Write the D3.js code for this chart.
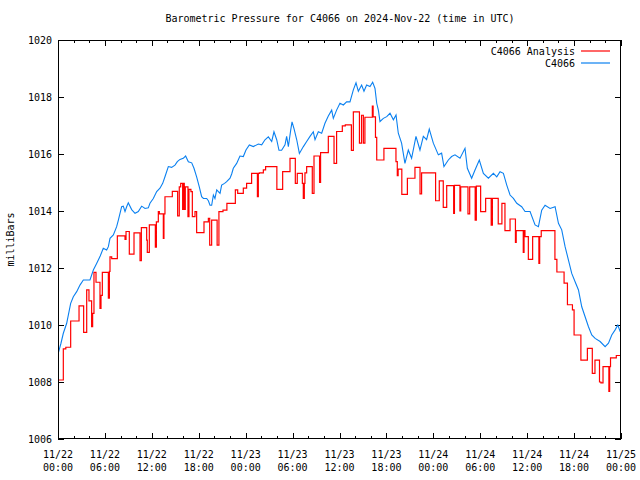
<!DOCTYPE html>
<html><head><meta charset="utf-8">
<script src="https://cdn.jsdelivr.net/npm/d3@7"></script>
<style>body{margin:0;background:#fff}svg{display:block}text{font-family:"DejaVu Sans Mono","Liberation Mono",monospace;font-size:10px;fill:#000}</style>
</head><body><svg id="c" width="640" height="480"></svg>
<script>
const title = "Barometric Pressure for C4066 on 2024-Nov-22 (time in UTC)";
const yLabel = "milliBars";
const seriesNames = ["C4066 Analysis", "C4066"];
const yTicks = [1006, 1008, 1010, 1012, 1014, 1016, 1018, 1020];
const startTime = Date.UTC(2024, 10, 22, 0, 0);

// C4066 (observed) — hours since 11/22 00:00 UTC and pressure
const obsHours = [0,0.38,0.68,1.11,1.62,1.96,2.39,2.81,3.24,4.09,4.52,4.94,5.37,5.79,6.22,6.44,6.65,7.08,7.5,7.72,8.14,8.35,8.57,8.78,8.99,9.42,9.85,10.27,10.7,11.13,11.55,11.76,12.19,12.62,13.04,13.39,13.68,14.11,14.53,14.96,15.26,15.6,16.02,16.32,16.67,17.1,17.39,17.73,18.07,18.37,18.6,19.01,19.23,19.44,19.65,19.87,20.07,20.3,20.72,20.93,21.3,21.57,22.0,22.21,22.42,22.85,23.27,23.7,24.04,24.47,24.98,25.62,26.05,26.47,26.9,27.33,27.62,27.97,28.26,28.6,29.03,29.24,29.46,29.76,29.93,30.19,30.53,30.87,31.38,31.8,32.23,32.65,32.87,33.29,33.72,34.14,34.57,35.0,35.21,35.63,36.06,36.49,36.91,37.34,37.77,38.11,38.41,38.83,39.13,39.47,39.9,40.24,40.54,40.76,40.97,41.18,41.61,42.04,42.46,42.89,43.23,43.52,43.94,44.37,44.8,45.22,45.78,46.29,46.72,47.14,47.48,48.0,48.64,49.06,49.36,49.92,50.34,50.77,51.41,52.05,52.35,52.9,53.33,53.88,54.4,55.04,55.68,56.11,56.53,56.96,57.39,57.81,58.24,58.67,59.3,59.73,60.37,61.01,61.44,61.86,62.29,62.93,63.57,64.0,64.42,64.85,65.28,65.7,66.13,66.56,66.98,67.41,67.84,68.26,68.69,69.33,69.97,70.4,70.82,71.25,71.59,71.89,72];
const obsValues = [1008.98,1009.36,1009.71,1010.06,1010.76,1010.99,1011.17,1011.4,1011.58,1011.58,1011.93,1012.16,1012.4,1012.69,1012.63,1012.75,1013.04,1013.16,1013.45,1013.68,1014.15,1014.17,1013.98,1014.15,1014.29,1014.05,1013.92,1013.98,1014.17,1014.09,1014.11,1014.27,1014.44,1014.68,1014.8,1014.97,1015.2,1015.56,1015.53,1015.61,1015.73,1015.81,1015.85,1015.93,1015.73,1015.69,1015.5,1015.2,1014.85,1014.5,1014.44,1014.44,1014.36,1014.2,1014.2,1014.56,1014.44,1014.74,1014.62,1014.91,1014.97,1015.03,1015.15,1015.3,1015.5,1015.67,1015.93,1015.91,1016.14,1016.32,1016.26,1016.35,1016.32,1016.5,1016.6,1016.44,1016.78,1016.5,1016.13,1016.13,1016.32,1016.62,1016.26,1016.84,1017.13,1016.88,1016.5,1016.02,1016.26,1016.44,1016.62,1016.78,1016.5,1016.78,1016.73,1017.08,1017.33,1017.54,1017.25,1017.54,1017.78,1017.72,1017.83,1017.83,1018.25,1018.5,1018.2,1018.42,1018.2,1018.42,1018.37,1018.52,1018.3,1017.78,1017.54,1017.14,1017.25,1017.31,1017.43,1017.2,1017.37,1016.73,1016.38,1015.67,1016.14,1015.85,1016.62,1016.14,1016.62,1016.5,1016.87,1016.38,1015.97,1016.03,1015.56,1015.79,1015.91,1015.97,1015.85,1016.2,1015.5,1015.15,1015.44,1015.79,1015.32,1015.15,1015.32,1015.2,1015.38,1015.32,1014.91,1014.56,1014.44,1014.27,1014.15,1013.98,1013.98,1013.51,1013.45,1014.03,1014.2,1014.09,1014.15,1013.57,1013.34,1012.75,1012.28,1011.81,1011.52,1011.23,1010.64,1010.29,1009.94,1009.65,1009.53,1009.42,1009.24,1009.36,1009.65,1009.83,1010.0,1009.77,1009.77];

// C4066 Analysis — step series: hour at which each value starts
const anaHours = [0,0.68,1.0,1.62,2.69,3.28,3.67,3.96,4.3,4.43,4.6,4.86,5.37,5.5,5.67,6.44,6.57,6.65,6.87,7.59,8.57,8.7,9.12,9.72,10.49,10.66,11.34,11.42,11.68,12.45,12.58,12.83,12.96,13.47,13.55,13.68,14.62,15.3,15.51,15.69,15.94,16.07,16.15,16.28,16.62,16.75,17.0,17.18,17.52,17.73,18.67,19.23,19.4,19.65,20.35,20.58,21.1,21.6,22.68,22.98,23.7,24.12,24.76,25.5,25.62,25.75,26.26,26.55,27.99,28.73,29.67,30.35,30.6,31.25,31.37,31.5,31.58,31.8,32.52,32.74,33.45,33.58,34.57,35.3,35.63,36.36,36.74,37.52,37.77,38.55,38.82,39.05,39.25,40.2,40.3,40.6,40.76,41.68,43.22,43.39,43.5,43.97,44.68,45.65,46.3,46.5,48.29,48.76,49.27,49.71,50.6,50.7,51.4,51.5,52.43,52.65,53.35,53.5,54.05,54.69,55.4,55.55,56.3,56.77,57.16,57.81,58.5,58.6,59.5,59.6,59.72,60.15,60.7,61.5,61.6,61.8,63.55,63.8,64.72,65.15,65.79,66.0,66.87,67.7,68.33,68.67,69.25,69.43,69.7,70.45,70.55,70.66,71.4,72];
const anaValues = [1008.07,1009.16,1009.22,1010.14,1010.67,1009.74,1011.23,1010.85,1009.94,1010.41,1011.85,1011.5,1010.58,1011.04,1011.85,1010.94,1011.88,1012.39,1012.33,1013.13,1013.0,1013.28,1012.49,1013.23,1012.26,1013.42,1012.98,1012.55,1013.51,1012.73,1013.62,1013.98,1013.9,1013.04,1013.9,1014.5,1014.69,1013.83,1014.85,1014.97,1014.06,1014.97,1014.06,1014.85,1013.8,1014.76,1014.68,1013.8,1013.98,1013.24,1013.62,1013.74,1012.8,1013.68,1012.8,1013.98,1014.03,1014.27,1014.74,1014.62,1014.8,1014.97,1015.32,1014.5,1015.32,1015.34,1015.44,1015.56,1014.76,1015.38,1015.85,1014.97,1015.32,1014.97,1014.44,1014.97,1015.34,1015.56,1014.62,1015.93,1015.0,1016.05,1016.62,1015.67,1016.79,1016.99,1017.02,1016.13,1017.48,1016.38,1017.36,1016.38,1017.29,1017.68,1017.3,1016.58,1015.79,1016.2,1015.73,1015.24,1015.47,1014.58,1015.15,1015.53,1014.6,1015.34,1014.36,1015.06,1014.13,1014.89,1013.92,1014.9,1014.0,1014.85,1013.9,1014.85,1013.68,1014.87,1013.98,1014.44,1013.5,1014.44,1013.55,1014.27,1013.31,1013.72,1012.9,1013.31,1012.55,1013.31,1013.1,1012.3,1013.1,1012.16,1013.1,1013.31,1012.3,1011.86,1011.47,1010.71,1010.53,1009.65,1008.77,1009.18,1008.3,1008.77,1008.0,1007.97,1008.54,1007.67,1008.54,1008.85,1008.93,1009.0];

const W = 640, H = 480;
const m = {l: 58, r: 19, t: 40, b: 41};
const svg = d3.select("#c");
const toDate = h => new Date(startTime + h * 3600e3);
const x = d3.scaleUtc().domain([toDate(0), toDate(72)]).range([m.l, W - m.r]);
const y = d3.scaleLinear().domain([1006, 1020]).range([H - m.b, m.t]);

svg.append("text").attr("x", 340).attr("y", 22).attr("text-anchor", "middle").text(title);

const g = svg.append("g");
const majors = d3.utcHour.every(6).range(toDate(0), toDate(72.01));
const minors = d3.utcHour.every(2).range(toDate(0), toDate(72.01));
minors.forEach(d => {
  const len = (d.getUTCHours() % 6 === 0) ? 6 : 3;
  const px = Math.round(x(d)) + 0.5;
  g.append("line").attr("x1", px).attr("x2", px).attr("y1", H - m.b).attr("y2", H - m.b - len).attr("stroke", "#000");
  g.append("line").attr("x1", px).attr("x2", px).attr("y1", m.t).attr("y2", m.t + len).attr("stroke", "#000");
});
const fmtD = d3.utcFormat("%m/%d"), fmtT = d3.utcFormat("%H:%M");
majors.forEach(d => {
  const t = g.append("text").attr("text-anchor", "middle").attr("x", x(d));
  t.append("tspan").attr("x", x(d)).attr("y", 458).text(fmtD(d));
  t.append("tspan").attr("x", x(d)).attr("y", 471).text(fmtT(d));
});
yTicks.forEach(v => {
  const py = Math.round(y(v)) + 0.5;
  g.append("line").attr("x1", m.l).attr("x2", m.l + 6).attr("y1", py).attr("y2", py).attr("stroke", "#000");
  g.append("line").attr("x1", W - m.r).attr("x2", W - m.r - 6).attr("y1", py).attr("y2", py).attr("stroke", "#000");
  g.append("text").attr("x", m.l - 6).attr("y", y(v) + 3.5).attr("text-anchor", "end").text(v);
});
svg.append("text").attr("transform", `translate(14,${(m.t + H - m.b) / 2}) rotate(-90)`).attr("text-anchor", "middle").text(yLabel);

svg.append("clipPath").attr("id", "pc").append("rect").attr("x", m.l).attr("y", m.t).attr("width", W - m.l - m.r).attr("height", H - m.t - m.b);

const obs = obsHours.map((h, i) => [h, obsValues[i]]);
const ana = anaHours.map((h, i) => [h, anaValues[i]]);
const lineR = d3.line().x(d => x(toDate(d[0]))).y(d => y(d[1])).curve(d3.curveStepAfter);
svg.append("path").attr("clip-path", "url(#pc)").attr("d", lineR(ana)).attr("fill", "none").attr("stroke", "#ff0000").attr("stroke-width", 1.2);
const lineB = d3.line().x(d => x(toDate(d[0]))).y(d => y(d[1]));
svg.append("path").attr("clip-path", "url(#pc)").attr("d", lineB(obs)).attr("fill", "none").attr("stroke", "#0a80f0").attr("stroke-width", 1.1);

svg.append("rect").attr("x", m.l + 0.5).attr("y", m.t + 0.5).attr("width", W - m.l - m.r - 1).attr("height", H - m.t - m.b - 1).attr("fill", "none").attr("stroke", "#000");

const colors = ["#ff0000", "#0a80f0"];
seriesNames.forEach((n, i) => {
  const ly = 51 + i * 12;
  svg.append("text").attr("x", 575).attr("y", ly + 3.5).attr("text-anchor", "end").text(n);
  svg.append("line").attr("x1", 581).attr("x2", 610).attr("y1", ly).attr("y2", ly).attr("stroke", colors[i]).attr("stroke-width", 1.2);
});
</script></body></html>
